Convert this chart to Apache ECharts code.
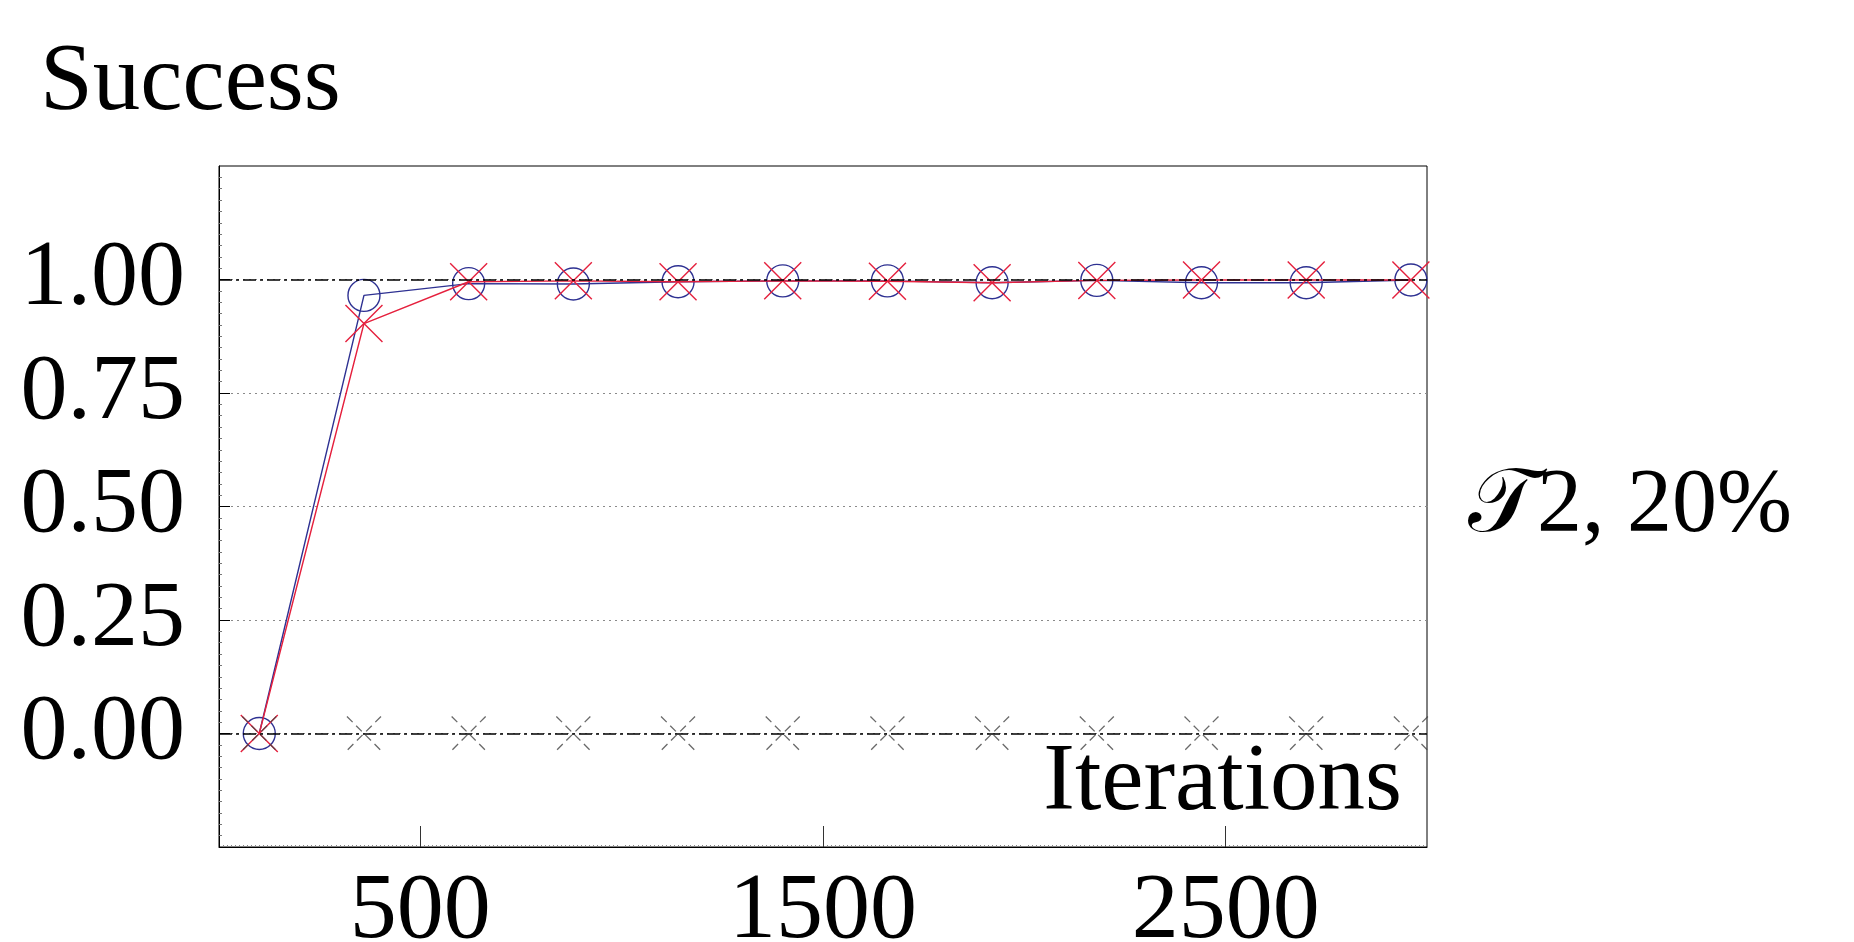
<!DOCTYPE html>
<html>
<head>
<meta charset="utf-8">
<style>
  html, body { margin: 0; padding: 0; background: #ffffff; }
  #chart { width: 1854px; height: 942px; }
</style>
<script src="https://cdn.jsdelivr.net/npm/echarts@6/dist/echarts.min.js"></script>
</head>
<body>
<div id="chart"></div>
<script>
// ---- data ----
const iterations = [100, 360, 620, 880, 1140, 1400, 1660, 1920, 2180, 2440, 2700, 2960];
const blueSuccess = [0.000, 0.965, 0.991, 0.990, 0.995, 0.997, 0.997, 0.993, 0.998, 0.993, 0.993, 0.999];
const redSuccess  = [0.000, 0.903, 0.995, 0.997, 0.995, 0.997, 0.996, 0.993, 0.998, 0.999, 0.999, 0.999];
const baseSuccess = [0, 0, 0, 0, 0, 0, 0, 0, 0, 0, 0, 0];
const referenceLevels = [0, 1];
const xTickValues = [500, 1500, 2500];
const yTickValues = [0, 0.25, 0.5, 0.75, 1];
const yAxisTitle = 'Success';
const xAxisTitle = 'Iterations';
const panelLabel = '\u{1D4AF}2, 20%';

const FONT = '"Liberation Serif", "DejaVu Serif", serif';
const BLUE = '#2e3192';
const RED = '#e5203d';
const GRAY = '#444444';

const toPairs = (xs, ys) => xs.map((x, i) => [x, ys[i]]);
const crossPath = 'path://M0,0L34,34M34,0L0,34';

const chart = echarts.init(document.getElementById('chart'), null, { renderer: 'canvas' });

chart.setOption({
  animation: false,
  backgroundColor: '#ffffff',
  grid: {
    left: 219, top: 166, right: 427, bottom: 95,
    outerBoundsMode: 'none', containLabel: false,
    show: true, borderColor: '#000000', borderWidth: 1, backgroundColor: 'transparent'
  },
  xAxis: {
    type: 'value', min: 0, max: 3000, interval: 500,
    axisLine: { show: true, onZero: false, lineStyle: { color: '#000', width: 1 } },
    axisTick: { show: true, inside: true, length: 21, customValues: xTickValues, lineStyle: { color: '#333', width: 1 } },
    minorTick: { show: true, splitNumber: 50, length: 2, lineStyle: { color: '#888', width: 1 } },
    axisLabel: {
      show: true, customValues: xTickValues, margin: 18, fontSize: 94, fontFamily: FONT, color: '#000',
      formatter: v => String(v)
    },
    splitLine: { show: false }
  },
  yAxis: {
    type: 'value', min: -0.25, max: 1.25, interval: 0.25,
    axisLine: { show: true, onZero: false, lineStyle: { color: '#000', width: 1 } },
    axisTick: { show: true, inside: true, length: 11, customValues: yTickValues, lineStyle: { color: '#000', width: 1 } },
    minorTick: { show: true, splitNumber: 10, length: 3, lineStyle: { color: '#777', width: 1 } },
    axisLabel: {
      show: true, customValues: yTickValues, margin: 34, fontSize: 94, fontFamily: FONT, color: '#000',
      formatter: v => Number(v).toFixed(2)
    },
    splitLine: { show: true, lineStyle: { color: '#8a8a8a', width: 1, type: [2, 4] } }
  },
  series: [
    {
      name: 'blue', type: 'line', data: toPairs(iterations, blueSuccess),
      symbol: 'circle', symbolSize: 32, showAllSymbol: true,
      lineStyle: { color: BLUE, width: 1.4 },
      itemStyle: { color: 'rgba(0,0,0,0)', borderColor: BLUE, borderWidth: 1.4 },
      emphasis: { disabled: true }, z: 3,
      markLine: {
        silent: true, symbol: 'none', label: { show: false },
        lineStyle: { color: '#000000', width: 1.6, type: [13, 4, 3, 4] },
        data: referenceLevels.map(v => ({ yAxis: v }))
      }
    },
    {
      name: 'red', type: 'line', data: toPairs(iterations, redSuccess),
      symbol: crossPath, symbolSize: 37, showAllSymbol: true,
      lineStyle: { color: RED, width: 1.4 },
      itemStyle: { color: 'rgba(0,0,0,0)', borderColor: RED, borderWidth: 1.4 },
      emphasis: { disabled: true }, z: 4
    },
    {
      name: 'base', type: 'scatter', data: toPairs(iterations, baseSuccess),
      symbol: crossPath, symbolSize: 34,
      itemStyle: { color: 'rgba(0,0,0,0)', borderColor: GRAY, borderWidth: 1.3, borderType: [8, 5] },
      emphasis: { disabled: true }, z: 5
    }
  ],
  graphic: [
    { type: 'text', left: 40, top: 37, style: { text: yAxisTitle, fontSize: 95, fontFamily: FONT, fill: '#000' } },
    { type: 'text', right: 1854 - 1402, top: 737, style: { text: xAxisTitle, fontSize: 95, fontFamily: FONT, fill: '#000' } },
    { type: 'text', left: 1468, top: 462, style: { text: panelLabel, fontSize: 90, fontFamily: FONT, fill: '#000' } }
  ]
});
</script>
</body>
</html>
